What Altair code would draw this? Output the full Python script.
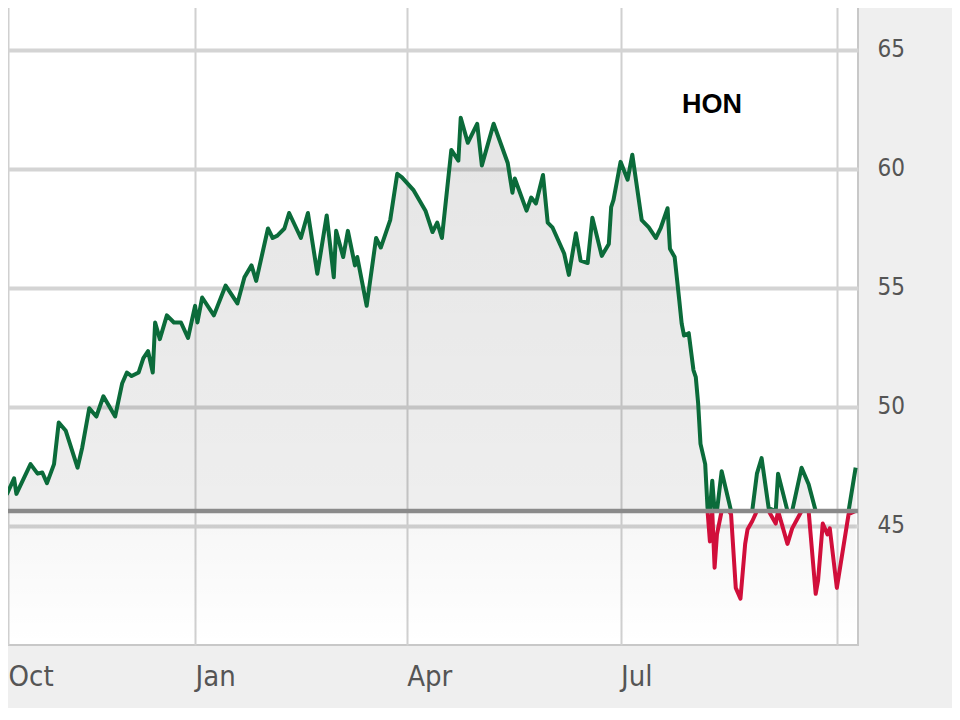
import altair as alt
import pandas as pd

dates = [
    "2010-10-10", "2010-10-12", "2010-10-13", "2010-10-16", "2010-10-17", "2010-10-23", "2010-10-26",
    "2010-10-28", "2010-10-30", "2010-11-02", "2010-11-04", "2010-11-07", "2010-11-12", "2010-11-14",
    "2010-11-17", "2010-11-20", "2010-11-23", "2010-11-28", "2010-12-01", "2010-12-03", "2010-12-05",
    "2010-12-08", "2010-12-10", "2010-12-12", "2010-12-14", "2010-12-15", "2010-12-17", "2010-12-20",
    "2010-12-23", "2010-12-26", "2010-12-29", "2011-01-01", "2011-01-02", "2011-01-04", "2011-01-09",
    "2011-01-14", "2011-01-19", "2011-01-22", "2011-01-25", "2011-01-27", "2011-02-01", "2011-02-03",
    "2011-02-05", "2011-02-08", "2011-02-10", "2011-02-15", "2011-02-18", "2011-02-22", "2011-02-26",
    "2011-03-01", "2011-03-02", "2011-03-05", "2011-03-07", "2011-03-10", "2011-03-11", "2011-03-15",
    "2011-03-19", "2011-03-21", "2011-03-25", "2011-03-28", "2011-03-30", "2011-04-04", "2011-04-09",
    "2011-04-12", "2011-04-14", "2011-04-16", "2011-04-20", "2011-04-23", "2011-04-24", "2011-04-27",
    "2011-05-01", "2011-05-03", "2011-05-08", "2011-05-14", "2011-05-16", "2011-05-17", "2011-05-22",
    "2011-05-24", "2011-05-26", "2011-05-29", "2011-05-31", "2011-06-02", "2011-06-07", "2011-06-09",
    "2011-06-12", "2011-06-14", "2011-06-17", "2011-06-19", "2011-06-23", "2011-06-26", "2011-06-27",
    "2011-06-28", "2011-07-01", "2011-07-04", "2011-07-06", "2011-07-10", "2011-07-13", "2011-07-16",
    "2011-07-18", "2011-07-21", "2011-07-22", "2011-07-24", "2011-07-26", "2011-07-27", "2011-07-28",
    "2011-07-30", "2011-08-01", "2011-08-02", "2011-08-03", "2011-08-04", "2011-08-06", "2011-08-07",
    "2011-08-08", "2011-08-09", "2011-08-10", "2011-08-11", "2011-08-13", "2011-08-16", "2011-08-17",
    "2011-08-19", "2011-08-21", "2011-08-23", "2011-08-24", "2011-08-26", "2011-08-28", "2011-08-30",
    "2011-09-02", "2011-09-05", "2011-09-06", "2011-09-10", "2011-09-12", "2011-09-16", "2011-09-19",
    "2011-09-22", "2011-09-23", "2011-09-25", "2011-09-27", "2011-09-28", "2011-10-01", "2011-10-06",
    "2011-10-09",
]

prices = [
    45.8, 46.5, 46.35, 47.0, 46.35, 47.6, 47.2,
    47.25, 46.8, 47.6, 49.35, 49.0, 47.45, 48.3,
    49.95, 49.6, 50.45, 49.6, 51.0, 51.45, 51.3,
    51.45, 52.05, 52.35, 51.45, 53.55, 52.85, 53.85,
    53.55, 53.55, 52.9, 54.25, 53.55, 54.6, 53.85,
    55.1, 54.35, 55.45, 55.95, 55.3, 57.5, 57.1,
    57.2, 57.5, 58.15, 57.1, 58.15, 55.6, 58.05,
    55.45, 57.4, 56.3, 57.4, 55.95, 56.3, 54.25,
    57.1, 56.7, 57.85, 59.8, 59.65, 59.1, 58.25,
    57.35, 57.75, 57.1, 60.8, 60.35, 62.15, 61.1,
    61.9, 60.15, 61.9, 60.25, 59.0, 59.6, 58.25,
    58.8, 58.55, 59.75, 57.75, 57.55, 56.45, 55.55,
    57.3, 56.15, 56.05, 57.95, 56.35, 56.85, 58.4,
    58.7, 60.3, 59.55, 60.6, 57.85, 57.55, 57.1,
    57.5, 58.35, 56.65, 56.3, 54.45, 53.5, 53.0,
    53.1, 51.55, 51.25, 50.15, 48.45, 47.6, 45.75,
    44.35, 46.9, 43.25, 44.65, 47.3, 46.05, 45.5,
    42.4, 41.95, 44.25, 44.85, 45.2, 47.2, 47.85,
    45.75, 45.1, 47.2, 44.25, 44.9, 47.45, 46.75,
    42.15, 42.7, 45.1, 44.65, 44.9, 42.4, 45.5,
    47.45,
]

base_price = 45.63
y_ticks = [45, 50, 55, 60, 65]
ticker = "HON"

df = pd.DataFrame({"date": dates, "price": prices})

start = alt.DateTime(year=2010, month=10, date=13, hours=10, utc=True)
end = alt.DateTime(year=2011, month=10, date=10, utc=True)

x_axis = alt.Axis(
    values=[
        start,
        alt.DateTime(year=2011, month=1, date=1, utc=True),
        alt.DateTime(year=2011, month=4, date=1, utc=True),
        alt.DateTime(year=2011, month=7, date=1, utc=True),
        alt.DateTime(year=2011, month=10, date=1, utc=True),
    ],
    format="%b",
    labelExpr="utcyear(datum.value) == 2011 && utcmonth(datum.value) == 9 ? '' : datum.label",
    title=None,
    grid=True,
    gridColor="#d0d0d0",
    gridWidth=2,
    ticks=False,
    domain=False,
    labelAlign="left",
    labelBaseline="top",
    labelPadding=17,
    labelFontSize=29,
    labelFont="Liberation Sans Narrow, DejaVu Sans Condensed, sans-serif",
    labelColor="#555555",
    labelFlush=False,
)

x_scale = alt.Scale(type="utc", domain=[start, end])

y_axis = alt.Axis(
    orient="right",
    values=y_ticks,
    title=None,
    grid=True,
    gridColor="#d4d4d4",
    gridWidth=4,
    ticks=False,
    domain=False,
    labelPadding=19,
    labelFontSize=24,
    labelFont="Liberation Sans Narrow, DejaVu Sans Condensed, sans-serif",
    labelColor="#555555",
    labelAlign="left",
)

y_scale = alt.Scale(domain=[40, 67.1], nice=False, zero=False)

X = alt.X("date:T", scale=x_scale, axis=x_axis)

fill_grad = alt.Gradient(
    gradient="linear",
    stops=[
        alt.GradientStop(color="rgba(0,0,0,0.10)", offset=0),
        alt.GradientStop(color="rgba(0,0,0,0.065)", offset=0.74),
        alt.GradientStop(color="rgba(0,0,0,0.035)", offset=0.75),
        alt.GradientStop(color="rgba(0,0,0,0.0)", offset=1),
    ],
    x1=0, x2=0, y1=0, y2=1,
)

area = alt.Chart(df).mark_area(color=fill_grad, clip=True).encode(
    x=X,
    y=alt.Y("price:Q", scale=y_scale, axis=y_axis),
    y2=alt.datum(40),
)

lines = alt.Chart(df).transform_calculate(
    up=f"max(datum.price, {base_price})",
    dn=f"min(datum.price, {base_price})",
)

green = lines.mark_line(color="#0b6b3a", strokeWidth=4, strokeJoin="round", clip=True).encode(
    x=X, y=alt.Y("up:Q", scale=y_scale, axis=y_axis)
)
red = lines.mark_line(color="#d10f3b", strokeWidth=4, strokeJoin="round", clip=True).encode(
    x=X, y=alt.Y("dn:Q", scale=y_scale, axis=y_axis)
)

rule = alt.Chart(pd.DataFrame({"base": [base_price]})).mark_rule(
    color="#8a8a8a", strokeWidth=4.5
).encode(y=alt.Y("base:Q", scale=y_scale, axis=y_axis))

label = alt.Chart(pd.DataFrame({"t": [ticker]})).mark_text(
    font="Liberation Sans, Arial, sans-serif", fontSize=27, fontWeight="bold",
    color="#000000", align="center", baseline="middle",
).encode(text="t:N", x=alt.value(704), y=alt.value(105))

chart = alt.layer(area, green, red, rule, label).properties(
    width=850,
    height=645,
    background="#efefef",
    padding={"left": 0, "top": -8, "right": 94, "bottom": 63},
    autosize=alt.AutoSizeParams(type="none"),
).configure_view(
    fill="#ffffff", stroke="#c8c8c8", strokeWidth=2
)

chart.save("out.html", embed_options={"renderer": "svg", "actions": False})
